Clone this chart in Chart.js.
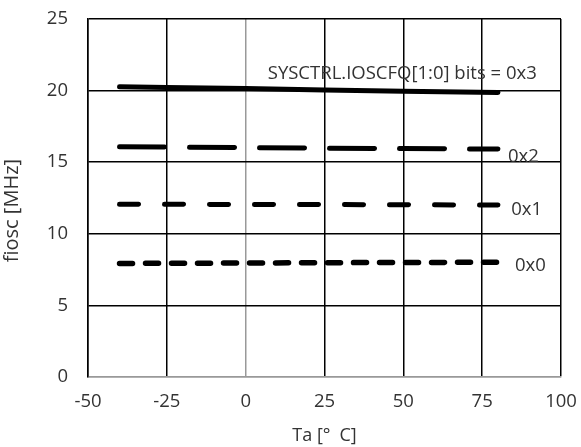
<!DOCTYPE html>
<html><head><meta charset="utf-8">
<script src="https://cdn.jsdelivr.net/npm/chart.js@4"></script>
<style>html,body{margin:0;padding:0;background:#fff}#wrap{width:581px;height:447px}</style>
</head><body><div id="wrap"><canvas id="c" width="581" height="447"></canvas></div>
<script>
const temps = [-40, -25, 0, 25, 50, 80];
const f0x3 = [20.27, 20.22, 20.14, 20.04, 19.95, 19.87];
const f0x2 = [16.08, 16.06, 16.02, 15.98, 15.95, 15.92];
const f0x1 = [12.07, 12.06, 12.05, 12.04, 12.03, 12.01];
const f0x0 = [7.93, 7.94, 7.96, 7.98, 8.00, 8.01];
const seriesNames = ['0x3', '0x2', '0x1', '0x0'];
const labelTexts = ['SYSCTRL.IOSCFQ[1:0] bits = 0x3', '0x2', '0x1', '0x0'];
const labelX = [7, 83.2, 84.2, 85.4];
const labelY = [21.2, 15.4, 11.7, 7.8];
const xTicks = [-50, -25, 0, 25, 50, 75, 100];
const yTicks = [0, 5, 10, 15, 20, 25];
const xTitle = 'Ta [°\u2002C]';
const yTitle = 'fiosc [MHz]\u2003 ';

const FONT = 'Open Sans';
const TXT = '#333';
const pts = arr => temps.map((t, i) => ({x: t, y: arr[i]}));

const labelPlugin = {
  id: 'labels',
  afterDatasetsDraw(chart) {
    const {ctx, scales: {x, y}} = chart;
    ctx.save();
    ctx.fillStyle = TXT;
    ctx.font = '18.5px "' + FONT + '"';
    ctx.textBaseline = 'middle';
    ctx.textAlign = 'left';
    labelTexts.forEach((t, i) => {
      ctx.fillText(t, x.getPixelForValue(labelX[i]), y.getPixelForValue(labelY[i]));
    });
    ctx.restore();
  }
};

new Chart(document.getElementById('c'), {
  type: 'line',
  data: {
    datasets: [
      {label: seriesNames[0], data: pts(f0x3), borderColor: '#000', borderWidth: 5, borderCapStyle: 'round', pointRadius: 0, tension: 0},
      {label: seriesNames[1], data: pts(f0x2), borderColor: '#000', borderWidth: 5, borderCapStyle: 'round', borderDash: [45, 25], pointRadius: 0},
      {label: seriesNames[2], data: pts(f0x1), borderColor: '#000', borderWidth: 5, borderCapStyle: 'round', borderDash: [19, 26], pointRadius: 0},
      {label: seriesNames[3], data: pts(f0x0), borderColor: '#000', borderWidth: 5.5, borderCapStyle: 'round', borderDash: [13, 13], pointRadius: 0}
    ]
  },
  options: {
    responsive: false,
    animation: false,
    layout: {padding: {left: 0, right: 20, top: 19, bottom: 0}},
    plugins: {legend: {display: false}, tooltip: {enabled: false}},
    scales: {
      x: {
        type: 'linear', min: -50, max: 100,
        afterBuildTicks: s => { s.ticks = xTicks.map(v => ({value: v})); },
        afterFit: s => { s.height = 70; s.paddingLeft = 0; s.paddingRight = 0; },
        grid: {color: c => c.tick && c.tick.value === 0 ? '#999' : '#000', lineWidth: 1.5, drawTicks: false},
        border: {color: '#999', width: 1.5},
        ticks: {color: TXT, font: {family: FONT, size: 18.5}, padding: 14, maxRotation: 0},
        title: {display: true, text: xTitle, color: TXT, font: {family: FONT, size: 18}, padding: {top: 0, bottom: 0}}
      },
      y: {
        type: 'linear', min: 0, max: 25,
        afterBuildTicks: s => { s.ticks = yTicks.map(v => ({value: v})); },
        afterFit: s => { s.width = 88; s.paddingTop = 0; s.paddingBottom = 0; },
        grid: {color: c => c.tick && c.tick.value === 0 ? '#999' : '#000', lineWidth: 1.5, drawTicks: false},
        border: {color: '#000', width: 1.5},
        ticks: {color: TXT, font: {family: FONT, size: 18.5}, padding: 20},
        title: {display: true, text: yTitle, color: TXT, font: {family: FONT, size: 20}, padding: {top: 0, bottom: 0}}
      }
    }
  },
  plugins: [labelPlugin]
});
</script></body></html>
